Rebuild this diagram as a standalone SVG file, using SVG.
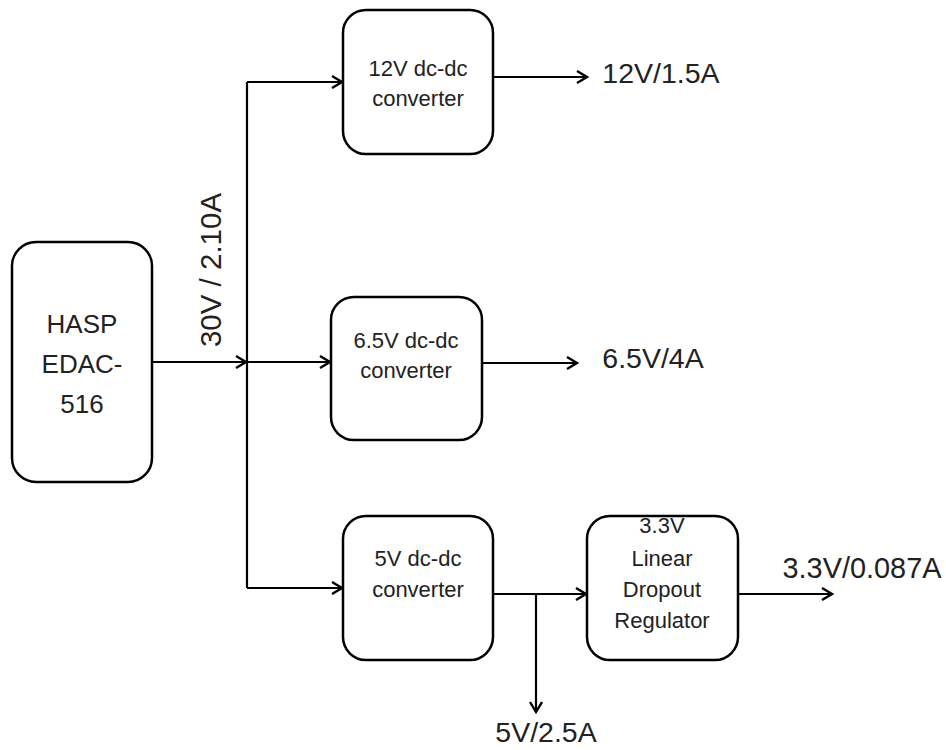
<svg xmlns="http://www.w3.org/2000/svg" width="946" height="750" viewBox="0 0 946 750">
<style>
.box{fill:#fff;stroke:#000;stroke-width:2.5}
.t{font-family:"Liberation Sans",Arial,sans-serif;fill:#222;text-anchor:middle}
.s{font-size:22px}
.l{font-size:28.5px}
.h{font-size:26px}
.w{fill:none;stroke:#000;stroke-width:2.2}
</style>
<defs>
<marker id="a" markerUnits="userSpaceOnUse" markerWidth="14" markerHeight="16" refX="11" refY="7" orient="auto" viewBox="0 0 14 16">
<path d="M1,1 L11,7 L1,13" fill="none" stroke="#000" stroke-width="2.4"/>
</marker>
</defs>
<rect width="946" height="750" fill="#fff"/>
<g id="connectors">
<path class="w" d="M152,362 H246" marker-end="url(#a)"/>
<path class="w" d="M247,362 H330" marker-end="url(#a)"/>
<path class="w" d="M247,82 V588"/>
<path class="w" d="M247,82 H342" marker-end="url(#a)"/>
<path class="w" d="M247,588 H342" marker-end="url(#a)"/>
<path class="w" d="M493,77 H587" marker-end="url(#a)"/>
<path class="w" d="M482,363 H577" marker-end="url(#a)"/>
<path class="w" d="M493,594 H586" marker-end="url(#a)"/>
<path class="w" d="M536,594 V712" marker-end="url(#a)"/>
<path class="w" d="M738,594 H832" marker-end="url(#a)"/>
<text class="t l" x="862" y="578" style="font-size:28.9px">3.3V/0.087A</text>
<text class="t l" x="661" y="83">12V/1.5A</text>
<text class="t l" x="653" y="368">6.5V/4A</text>
<text class="t l" x="546" y="742">5V/2.5A</text>
<text class="t" x="0" y="0" style="font-size:29.5px" transform="translate(221,270) rotate(-90)">30V / 2.10A</text>
</g>
<g id="hasp">
<rect class="box" x="12" y="242" width="140" height="240" rx="24"/>
<text class="t h" x="82" y="333">HASP</text>
<text class="t h" x="82" y="373">EDAC-</text>
<text class="t h" x="82" y="413">516</text>
</g>
<g id="conv12">
<rect class="box" x="343" y="10" width="150" height="144" rx="23"/>
<text class="t s" x="418" y="76">12V dc-dc</text>
<text class="t s" x="418" y="106">converter</text>
</g>
<g id="conv65">
<rect class="box" x="331" y="297" width="151" height="143" rx="23"/>
<text class="t s" x="406" y="348">6.5V dc-dc</text>
<text class="t s" x="406" y="378">converter</text>
</g>
<g id="conv5">
<rect class="box" x="343" y="516" width="150" height="144" rx="23"/>
<text class="t s" x="418" y="566">5V dc-dc</text>
<text class="t s" x="418" y="597">converter</text>
</g>
<g id="ldo">
<rect class="box" x="587" y="516" width="151" height="144" rx="23"/>
<text class="t s" x="662" y="533">3.3V</text>
<text class="t s" x="662" y="566">Linear</text>
<text class="t s" x="662" y="597">Dropout</text>
<text class="t s" x="662" y="628">Regulator</text>
</g>
</svg>
